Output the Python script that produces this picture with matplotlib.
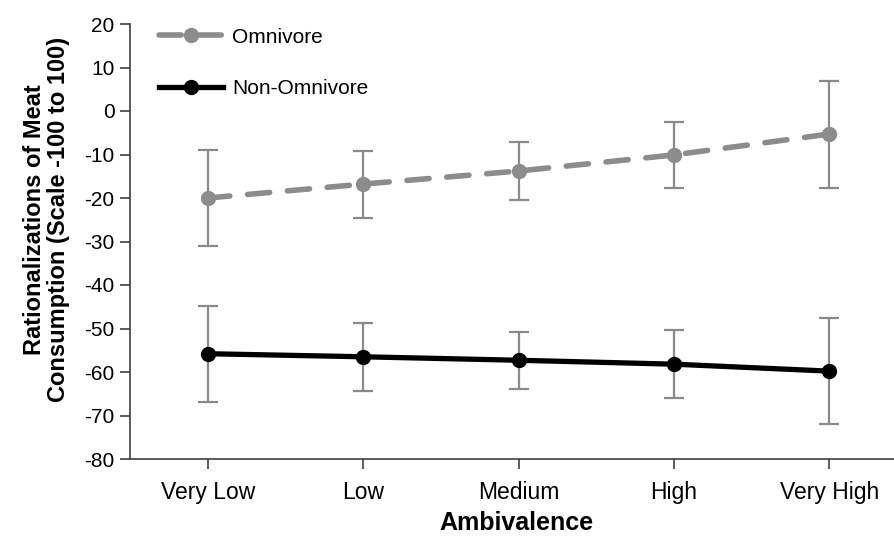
import matplotlib
matplotlib.use("Agg")
import matplotlib.pyplot as plt
import numpy as np

plt.rcParams['font.family'] = ['Liberation Sans', 'DejaVu Sans']
plt.rcParams['axes.unicode_minus'] = False

categories = ["Very Low", "Low", "Medium", "High", "Very High"]

omni_mean = [-20.0, -16.8, -13.8, -10.1, -5.3]
omni_err = [11.0, 7.7, 6.7, 7.6, 12.3]

non_omni_mean = [-55.8, -56.5, -57.3, -58.2, -59.8]
non_omni_err = [11.0, 7.8, 6.5, 7.8, 12.2]

y_ticks = list(range(-80, 21, 10))

fig = plt.figure(figsize=(8.94, 5.38), dpi=100)
ax = fig.add_axes([130 / 894, 79 / 538, 777 / 894, 435 / 538])

x = np.arange(len(categories))
err_color = "#8a8a8a"

ax.errorbar(x, omni_mean, yerr=omni_err, fmt="none", ecolor=err_color,
            elinewidth=1.6, capsize=7, capthick=1.6, zorder=2)
ax.errorbar(x, non_omni_mean, yerr=non_omni_err, fmt="none", ecolor=err_color,
            elinewidth=1.6, capsize=7, capthick=1.6, zorder=2)

ax.plot(x, omni_mean, color="#8c8c8c", linewidth=4, linestyle=(0, (4, 3.2)),
        marker="o", markersize=10, label="Omnivore", zorder=3,
        solid_capstyle="round", dash_capstyle="round")
ax.plot(x, non_omni_mean, color="black", linewidth=3.8, marker="o",
        markersize=10, label="Non-Omnivore", zorder=4)

ax.set_xlim(-0.5, len(categories) - 0.5)
ax.set_ylim(-80, 20)
ax.set_yticks(y_ticks)
ax.set_xticks(x)
ax.set_xticklabels(categories)

for s in ["top", "right"]:
    ax.spines[s].set_visible(False)
for s in ["left", "bottom"]:
    ax.spines[s].set_color("#404040")
    ax.spines[s].set_linewidth(1.2)

ax.tick_params(axis="both", direction="out", length=7, width=1.2,
               color="#404040", pad=4)
ax.tick_params(axis="y", labelsize=15)
ax.tick_params(axis="x", labelsize=16.5, pad=9)

ax.set_xlabel("Ambivalence", fontsize=18, fontweight="bold")
ax.xaxis.set_label_coords(0.5 - 2 / 777, -52 / 435)
ax.set_ylabel("Rationalizations of Meat\nConsumption (Scale -100 to 100)",
              fontsize=17, fontweight="bold", linespacing=1.05)
ax.yaxis.set_label_coords(-60 / 777, 0.5 + 22 / 435)

leg = ax.legend(loc="upper left", bbox_to_anchor=(0.013, 1.035), frameon=False,
                fontsize=15, handlelength=3.1, labelspacing=1.55,
                handletextpad=0.4)

fig.savefig("out.png", dpi=100)
